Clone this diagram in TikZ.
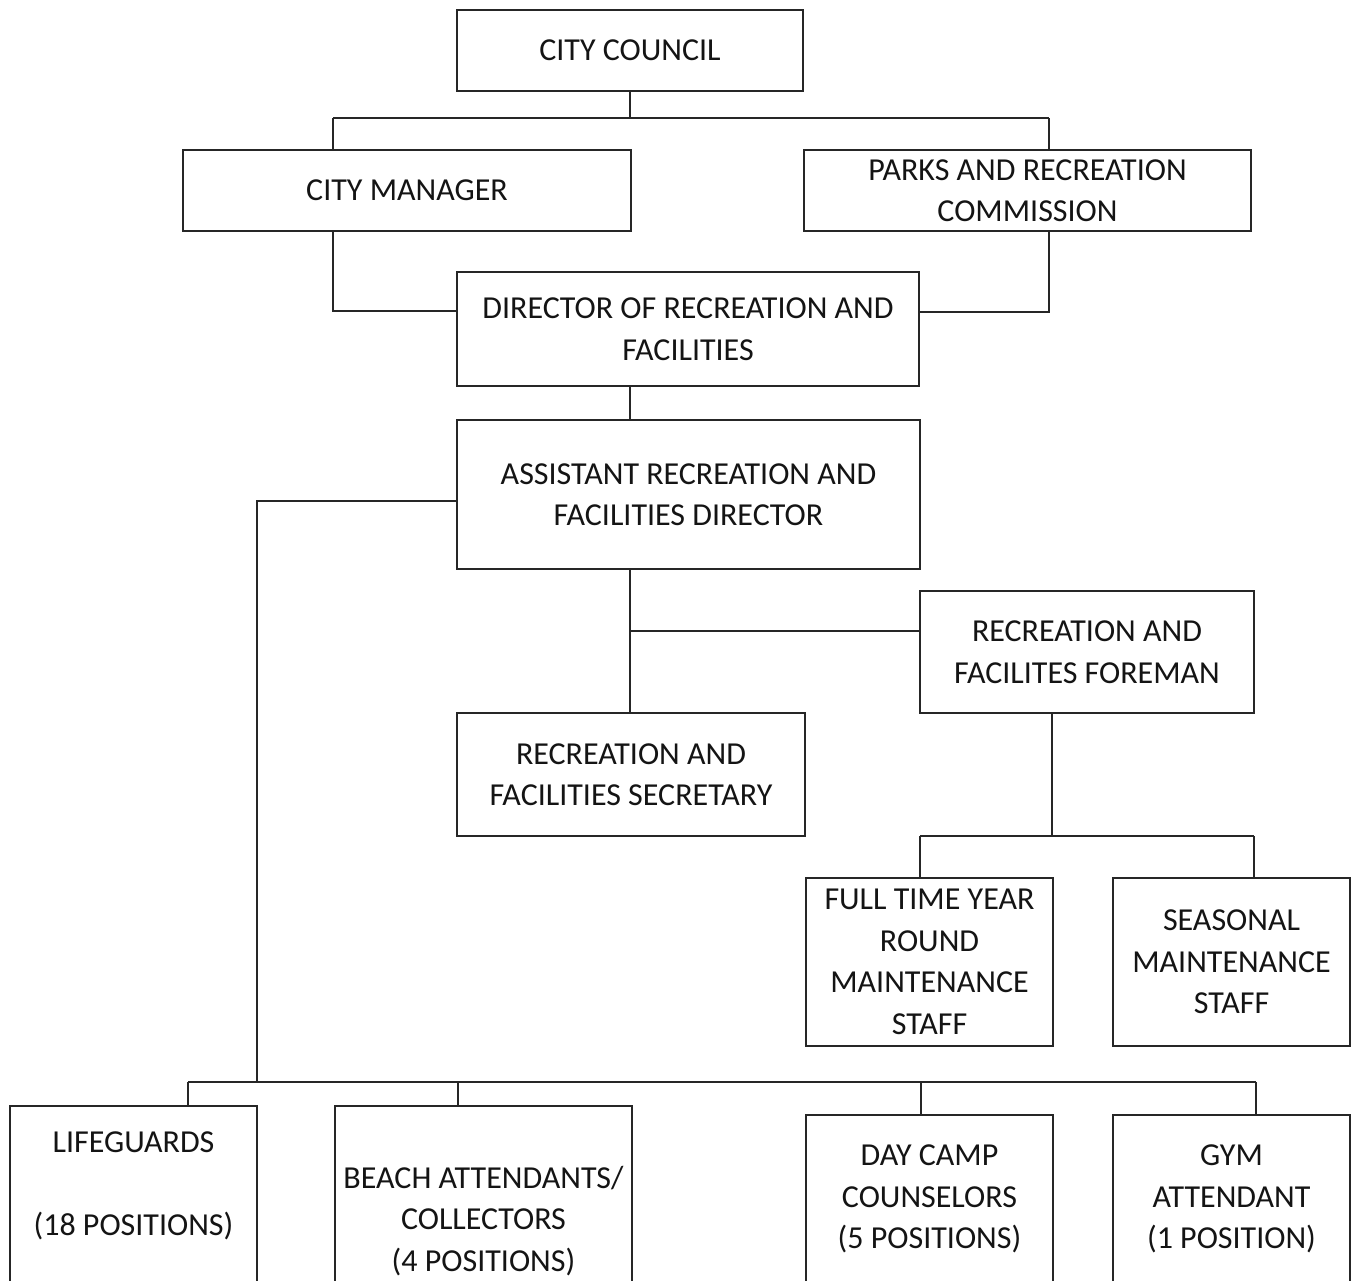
\documentclass[tikz,border=0pt]{standalone}
\usepackage{fontspec}
\setmainfont{Carlito}
\begin{document}
\begin{tikzpicture}[x=1pt,y=-1pt,
  line width=1.6pt, draw=black!85,
  orgbox/.style={draw=black!85, line width=1.6pt, rectangle, inner sep=0pt, align=center,
    text=black!92, font=\fontsize{32}{41.5}\selectfont},
  orgtext/.style={inner sep=0pt, align=center, text=black!92, font=\fontsize{32}{41.5}\selectfont}]
\useasboundingbox[fill=white] (0,0) rectangle (1351,1280);

% boxes
\node[orgbox, minimum width=346, minimum height=81] (cc) at (630,50.5) {CITY COUNCIL};
\node[orgbox, minimum width=448, minimum height=81] (cm) at (407,190.5) {CITY MANAGER};
\node[orgbox, minimum width=447, minimum height=81] (prc) at (1027.5,190.5) {PARKS AND RECREATION\\COMMISSION};
\node[orgbox, minimum width=462, minimum height=114] (dir) at (688,329) {DIRECTOR OF RECREATION AND\\FACILITIES};
\node[orgbox, minimum width=463, minimum height=149] (asst) at (688.5,494.5) {ASSISTANT RECREATION AND\\FACILITIES DIRECTOR};
\node[orgbox, minimum width=334, minimum height=122] (fore) at (1087,652) {RECREATION AND\\FACILITES FOREMAN};
\node[orgbox, minimum width=348, minimum height=123] (sec) at (631,774.5) {RECREATION AND\\FACILITIES SECRETARY};
\node[orgbox, minimum width=247, minimum height=168] (ft) at (929.5,962) {FULL TIME YEAR\\ROUND\\MAINTENANCE\\STAFF};
\node[orgbox, minimum width=237, minimum height=168] (sea) at (1231.5,962) {SEASONAL\\MAINTENANCE\\STAFF};

% bottom row (boxes run past the lower edge)
\node[orgbox, minimum width=247, minimum height=214] (life) at (133.5,1213) {};
\node[orgtext] (life-t) at (133.5,1186) {LIFEGUARDS\\[41.5pt](18 POSITIONS)};
\node[orgbox, minimum width=297, minimum height=214] (beach) at (483.5,1213) {};
\node[orgtext] (beach-t) at (483.5,1221) {BEACH ATTENDANTS/\\COLLECTORS\\(4 POSITIONS)};
\node[orgbox, minimum width=247, minimum height=205] (day) at (929.5,1217.5) {};
\node[orgtext] (day-t) at (929.5,1199) {DAY CAMP\\COUNSELORS\\(5 POSITIONS)};
\node[orgbox, minimum width=237, minimum height=205] (gym) at (1231.5,1217.5) {};
\node[orgtext] (gym-t) at (1231.5,1199) {GYM\\ATTENDANT\\(1 POSITION)};

% connector points
\coordinate (b1l) at (333,118);
\coordinate (b1r) at (1049,118);
\coordinate (dl) at (333,311);
\coordinate (dr) at (1049,312);
\coordinate (x630) at (630,0);
\coordinate (lv) at (257,501);
\coordinate (fb) at (630,631);
\coordinate (fd) at (1052,836);
\coordinate (b3l) at (920,836);
\coordinate (b3r) at (1254,836);
\coordinate (b4l) at (188,1082);
\coordinate (b4r) at (1256,1082);
\coordinate (b4a) at (458,1082);
\coordinate (b4b) at (921,1082);

% connectors
\draw (cc.south) -- (cc.south |- b1l);
\draw (b1l) -- (b1r);
\draw (b1l) -- (b1l |- cm.north);
\draw (b1r) -- (b1r |- prc.north);
\draw (dl |- cm.south) -- (dl) -- (dl -| dir.west);
\draw (dr |- prc.south) -- (dr) -- (dr -| dir.east);
\draw (dir.south -| x630) -- (asst.north -| x630);
\draw (lv -| asst.west) -- (lv) -- (lv |- b4l);
\draw (asst.south -| x630) -- (sec.north -| x630);
\draw (fb) -- (fb -| fore.west);
\draw (fore.south -| fd) -- (fd);
\draw (b3l) -- (b3r);
\draw (b3l) -- (b3l |- ft.north);
\draw (b3r) -- (b3r |- sea.north);
\draw (b4l) -- (b4r);
\draw (b4l) -- (b4l |- life.north);
\draw (b4a) -- (b4a |- beach.north);
\draw (b4b) -- (b4b |- day.north);
\draw (b4r) -- (b4r |- gym.north);
\end{tikzpicture}
\end{document}
